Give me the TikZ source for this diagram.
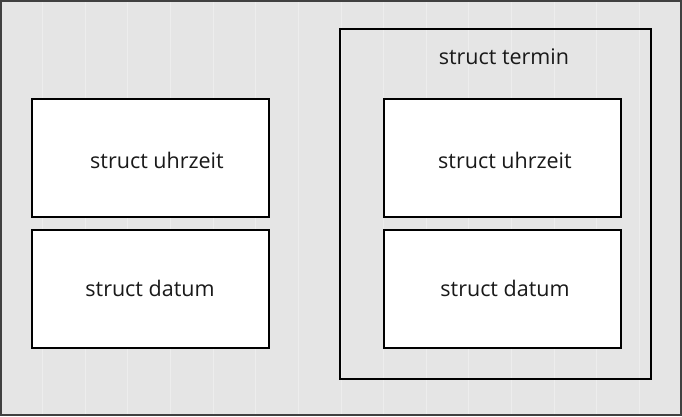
\documentclass[tikz,border=0pt]{standalone}
\usepackage{fontspec}
\setmainfont{Open Sans}
\begin{document}
\begin{tikzpicture}[x=1pt,y=-1pt,
  box/.style={draw=black,line width=2pt,fill=white},
  lbl/.style={font=\fontsize{21.5}{25}\selectfont,text=black!90}]
\useasboundingbox (0,0) rectangle (682,416);
\fill[black!10] (0,0) rectangle (682,416);
\foreach \i in {1,...,15}{\draw[black!7,line width=1pt] ({\i*682/16},0) -- ({\i*682/16},416);}
\draw[black!75,line width=2pt] (1,1) rectangle (681,415);
\draw[box] (32,99) rectangle (269,217);
\draw[box] (32,230) rectangle (269,348);
\draw[line width=2pt] (340,29) rectangle (651,379);
\draw[box] (384,99) rectangle (621,217);
\draw[box] (384,230) rectangle (621,348);
\node[lbl] (lu) at (157,160) {struct uhrzeit};
\node[lbl] (ld) at (150,288) {struct datum};
\node[lbl] (rt) at (504,57) {struct termin};
\node[lbl] (ru) at (505,160) {struct uhrzeit};
\node[lbl] (rd) at (505,288) {struct datum};
\end{tikzpicture}
\end{document}
